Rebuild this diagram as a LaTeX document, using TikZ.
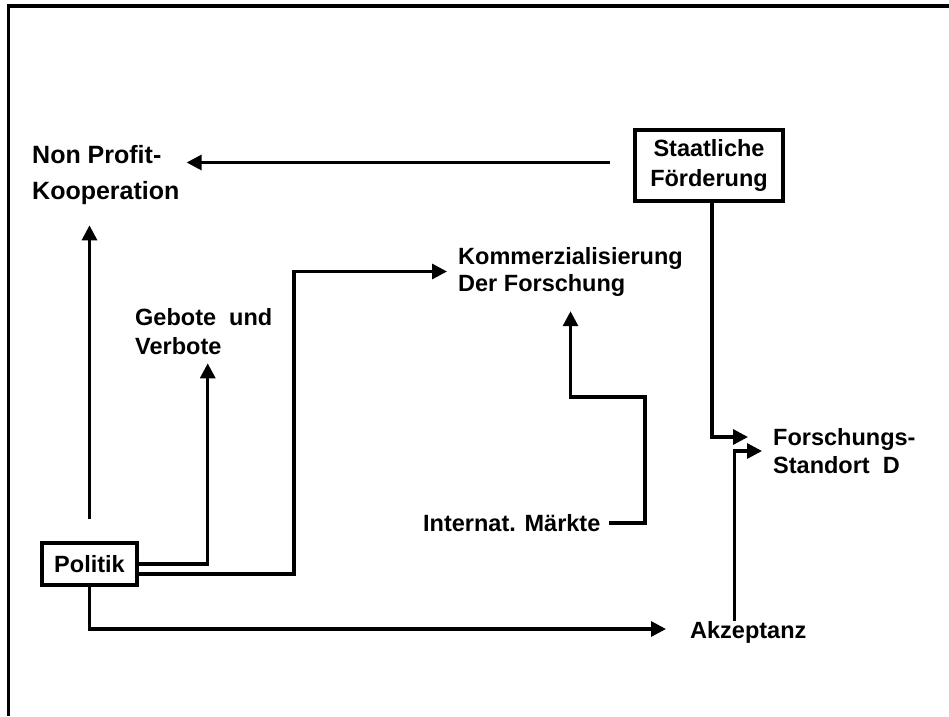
\documentclass[tikz,border=0pt]{standalone}
\usepackage{fontspec}
\setmainfont{Liberation Sans}
\usetikzlibrary{positioning, calc, arrows.meta}

\tikzset{
    arr/.style={-{Triangle[length=15pt,width=15pt]}, line width=3.2pt},
    lbl/.style={font=\fontsize{23.5}{27}\selectfont\bfseries, align=left, inner sep=0pt, anchor=west},
    boxnode/.style={draw, line width=3.2pt, font=\fontsize{23.5}{30}\selectfont\bfseries, align=center}
}

\begin{document}
\begin{tikzpicture}[x=1pt, y=-1pt]

    % ==========================================
    % FRAME (top and left edge only)
    % ==========================================
    \useasboundingbox (0,0) rectangle (949,716);
    \draw[line width=3.2pt] (8.5,716) -- (8.5,6) -- (949,6);

    % ==========================================
    % NODES
    % ==========================================
    \node[lbl, font=\fontsize{25}{36}\selectfont\bfseries] (nonprofit) at (32,175.5) {Non Profit-\\Kooperation};
    \node[boxnode, minimum width=148pt, minimum height=71pt] (staat) at (709,165.5) {Staatliche\\Förderung};
    \node[lbl, font=\fontsize{23.5}{29}\selectfont\bfseries] (gebote) at (135,332) {Gebote\ \ und\\Verbote};
    \node[lbl] (komm) at (458,271.5) {Kommerzialisierung\\Der Forschung};
    \node[lbl] (intern) at (423,523) {Internat. Märkte};
    \node[lbl, font=\fontsize{23.5}{28}\selectfont\bfseries] (forsch) at (773,451) {Forschungs-\\Standort\ \ D};
    \node[lbl] (akz) at (690,632) {Akzeptanz};
    \node[boxnode, minimum width=95pt, minimum height=42pt] (politik) at (89.5,564) {Politik};

    % helper coordinates for the bends
    \coordinate (k1) at (294,270);   % bend Politik -> Kommerzialisierung
    \coordinate (m1) at (645,397);   % bend Internat. Maerkte -> Kommerzialisierung

    % ==========================================
    % CONNECTORS
    % ==========================================
    \draw[arr, shorten <=23pt, shorten >=7pt] ([yshift=3pt]staat.west) -- ([yshift=3pt]staat.west -| nonprofit.east);
    \draw[arr, shorten <=22pt, shorten >=20pt] (politik.north) -- (politik.north |- nonprofit.south);
    \draw[arr, shorten >=8pt] (politik.east) -| ([xshift=4pt]gebote.south);
    \draw[arr, shorten >=11pt] ([yshift=-10pt]politik.east) -| (k1 |- komm.west) -- (komm.west);
    \draw[arr, shorten >=24pt] (politik.south) |- ([yshift=3pt]akz.west);
    \draw[arr, shorten <=8pt, shorten >=15pt] (intern.east) -| (m1) -| (komm.south);
    \draw[arr, shorten >=25pt] ([xshift=3pt]staat.south) |- ([yshift=14pt]forsch.west);
    \draw[arr, shorten >=11pt] ([xshift=-14pt]akz.north) |- (forsch.west);

\end{tikzpicture}
\end{document}
